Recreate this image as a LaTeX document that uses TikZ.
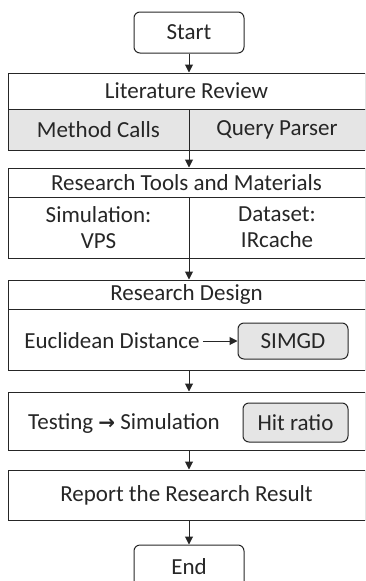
\documentclass[tikz,border=0pt]{standalone}
\usepackage{fontspec}
\setmainfont{Carlito}
\newfontfamily\arrowfont{DejaVu Sans}
\usetikzlibrary{arrows.meta,positioning}
\tikzset{>={Triangle[length=8pt,width=8pt]}}
\colorlet{penColor}{black!85}
\colorlet{textColor}{black!85}
\colorlet{fillGray}{black!10}
\tikzset{
  base/.style={draw=penColor,line width=1pt,inner sep=0pt,text=textColor,
    font=\fontsize{23}{26}\selectfont,align=center},
  term/.style={base,rounded corners=6pt,minimum width=110pt},
  bar/.style={base,minimum width=357pt},
  cell/.style={base,minimum height=41pt},
  tag/.style={base,rounded corners=6pt,fill=fillGray},
  label/.style={inner sep=0pt,text=textColor,font=\fontsize{23}{26}\selectfont},
  flow/.style={->,line width=1pt,draw=penColor},
}

\begin{document}
\begin{tikzpicture}[x=1pt,y=-1pt]
  \useasboundingbox (0,0) rectangle (365,581);
  \clip (0,0) rectangle (365,581);
  \coordinate (axis) at (189,0);
  % terminals
  \node[term,minimum height=41pt] (start) at (189,32.5) {Start};
  \node[term,minimum height=44pt] (end) at (189,567) {End};
  % literature review
  \node[bar,minimum height=36pt] (lit) at (186.5,91) {Literature Review};
  \node[cell,fill=fillGray,minimum width=181pt] (calls) at (98.5,129.5) {Method Calls};
  \node[cell,fill=fillGray,minimum width=176pt] (parser) at (277,129.5) {Query Parser};
  % tools and materials
  \node[bar,minimum height=29pt] (tools) at (186.5,182.5) {Research Tools and Materials};
  \node[cell,minimum height=61pt,minimum width=181pt] (sim) at (98.5,227.5) {Simulation:\\VPS};
  \node[cell,minimum height=61pt,minimum width=176pt] (data) at (277,227.5) {Dataset:\\IRcache};
  % design
  \node[bar,minimum height=29pt] (design) at (186.5,294.5) {Research Design};
  \node[bar,minimum height=61pt] (body) at (186.5,339.5) {};
  \node[label] (euclid) at (112,341) {Euclidean Distance};
  \node[tag,minimum width=110pt,minimum height=36pt] (simgd) at (293,341) {SIMGD};
  % testing
  \node[bar,minimum height=58pt] (testing) at (186.5,421) {};
  \node[label] (testsim) at (124,423) {Testing {\arrowfont\bfseries\fontsize{20}{24}\selectfont →} Simulation};
  \node[tag,minimum width=105pt,minimum height=39pt] (hit) at (295.5,422.5) {Hit ratio};
  % report
  \node[bar,minimum height=50pt] (report) at (186.5,495) {Report the Research Result};

  \draw[flow] (axis |- start.south) -- (axis |- lit.north);
  \draw[flow] (axis |- calls.south) -- (axis |- tools.north);
  \draw[flow] (axis |- sim.south) -- (axis |- design.north);
  \draw[flow] (euclid.east) ++(3,0) -- (simgd.west);
  \draw[flow] (axis |- body.south) -- (axis |- testing.north);
  \draw[flow] (axis |- testing.south) -- (axis |- report.north);
  \draw[flow] (axis |- report.south) -- (axis |- end.north);
\end{tikzpicture}
\end{document}
